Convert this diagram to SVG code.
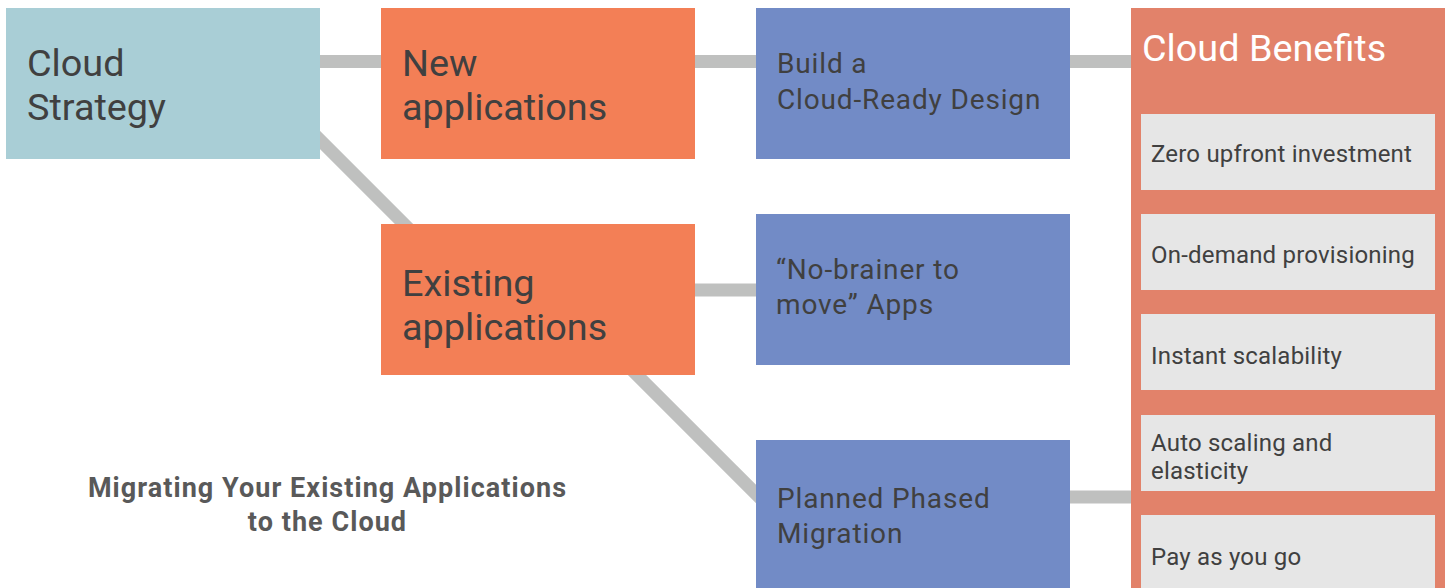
<svg xmlns="http://www.w3.org/2000/svg" width="1449" height="588" viewBox="0 0 1449 588">
  <style>
    .t { font-family: Roboto, "Liberation Sans", sans-serif; fill: #404040; }
    .big { font-size: 37.8px; }
    .mid { font-size: 28px; letter-spacing: 0.85px; }
    .sm { font-size: 24px; letter-spacing: 0.2px; }
    .cap { font-family: Roboto, "Liberation Sans", sans-serif; font-weight: bold; font-size: 27px; letter-spacing: 1.05px; fill: #595959; }
    .conn { stroke: #bfc0bf; stroke-width: 13; fill: none; }
    .strat { fill: #a9ced6; }
    .app { fill: #f37f56; }
    .step { fill: #728bc6; }
    .panel { fill: #e2826a; }
    .item { fill: #e6e6e6; }
  </style>
  <rect width="1449" height="588" fill="#ffffff"/>
  <g id="connectors">
    <line class="conn" x1="310" y1="61.5" x2="390" y2="61.5"/>
    <line class="conn" x1="690" y1="61.5" x2="760" y2="61.5"/>
    <line class="conn" x1="1065" y1="61.5" x2="1135" y2="61.5"/>
    <line class="conn" x1="300" y1="120" x2="420" y2="240"/>
    <line class="conn" x1="690" y1="290" x2="760" y2="290"/>
    <line class="conn" x1="620" y1="358" x2="770" y2="508"/>
    <line class="conn" x1="1065" y1="497" x2="1135" y2="497"/>
  </g>
  <g id="cloud-strategy">
    <rect class="strat" x="6" y="8" width="314" height="151"/>
    <text class="t big" x="27" y="76">Cloud</text>
    <text class="t big" x="27" y="120">Strategy</text>
  </g>
  <g id="new-applications">
    <rect class="app" x="381" y="8" width="314" height="151"/>
    <text class="t big" x="402" y="76">New</text>
    <text class="t big" x="402" y="120">applications</text>
  </g>
  <g id="existing-applications">
    <rect class="app" x="381" y="224" width="314" height="151"/>
    <text class="t big" x="402" y="296">Existing</text>
    <text class="t big" x="402" y="340">applications</text>
  </g>
  <g id="build-cloud-ready">
    <rect class="step" x="756" y="8" width="314" height="151"/>
    <text class="t mid" x="777" y="73">Build a</text>
    <text class="t mid" x="777" y="109">Cloud-Ready Design</text>
  </g>
  <g id="no-brainer">
    <rect class="step" x="756" y="214" width="314" height="151"/>
    <text class="t mid" x="776" y="279">“No-brainer to</text>
    <text class="t mid" x="776" y="314">move” Apps</text>
  </g>
  <g id="planned-phased-migration">
    <rect class="step" x="756" y="440" width="314" height="160"/>
    <text class="t mid" x="777" y="508">Planned Phased</text>
    <text class="t mid" x="777" y="543">Migration</text>
  </g>
  <g id="cloud-benefits">
    <rect class="panel" x="1131" y="8" width="314" height="592"/>
    <text class="t big" x="1142" y="61" style="fill:#ffffff">Cloud Benefits</text>
    <g id="benefit-zero-upfront">
      <rect class="item" x="1141" y="114" width="294" height="76"/>
      <text class="t sm" x="1151" y="162">Zero upfront investment</text>
    </g>
    <g id="benefit-on-demand">
      <rect class="item" x="1141" y="214" width="294" height="76"/>
      <text class="t sm" x="1151" y="263">On-demand provisioning</text>
    </g>
    <g id="benefit-instant-scalability">
      <rect class="item" x="1141" y="314" width="294" height="76"/>
      <text class="t sm" x="1151" y="364">Instant scalability</text>
    </g>
    <g id="benefit-auto-scaling">
      <rect class="item" x="1141" y="415" width="294" height="76"/>
      <text class="t sm" x="1151" y="451">Auto scaling and</text>
      <text class="t sm" x="1151" y="479">elasticity</text>
    </g>
    <g id="benefit-pay-as-you-go">
      <rect class="item" x="1141" y="515" width="294" height="85"/>
      <text class="t sm" x="1151" y="565">Pay as you go</text>
    </g>
  </g>
  <g id="caption">
    <text class="cap" x="327.5" y="497" text-anchor="middle">Migrating Your Existing Applications</text>
    <text class="cap" x="327.5" y="531" text-anchor="middle">to the Cloud</text>
  </g>
</svg>
